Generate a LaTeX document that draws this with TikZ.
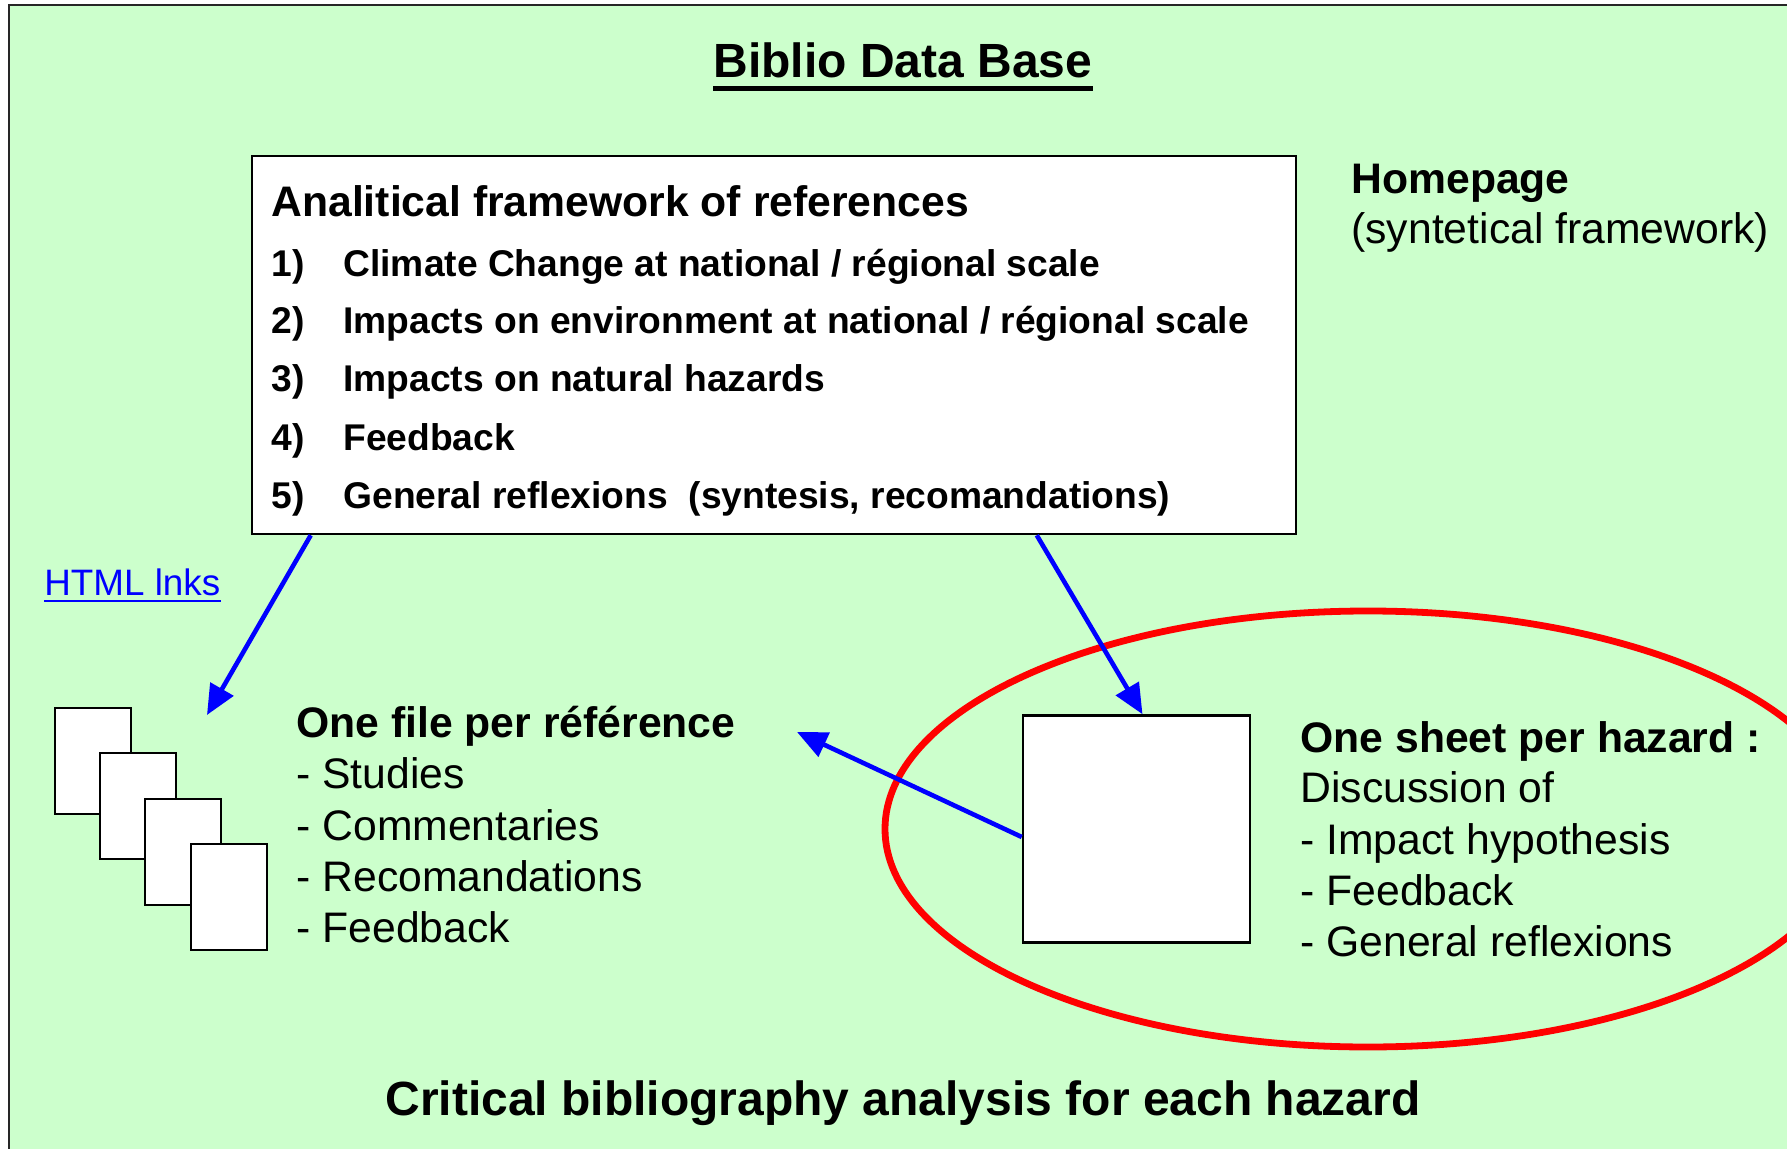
\documentclass[tikz,border=0pt]{standalone}
\usepackage{fontspec}
\setmainfont{Liberation Sans}
\usetikzlibrary{arrows.meta}

\definecolor{sheetgreen}{HTML}{CCFFCC}

\begin{document}
\begin{tikzpicture}[x=0.5pt, y=-0.5pt,
	line/.style={-{Triangle[length=15pt, width=13pt]}, draw=blue, line width=2.3pt},
	txt/.style={inner sep=0pt, anchor=base west, font=\fontsize{21.35}{25}\selectfont},
	bold/.style={txt, font=\fontsize{21.35}{25}\selectfont\bfseries},
	item/.style={txt, font=\fontsize{18.6}{22}\selectfont\bfseries},
	big/.style={inner sep=0pt, anchor=base, font=\fontsize{24}{28}\selectfont\bfseries},
	box/.style={draw=black, fill=white, line width=1.25pt, inner sep=0pt}]

	\useasboundingbox (0,0) rectangle (1787,1149);
	\clip (0,0) rectangle (1787,1149);
	\fill[white] (0,0) rectangle (1787,1149);
	\draw[draw=black!85, fill=sheetgreen, line width=1pt] (9,5) rectangle (1830,1190);

	% title
	\node[big] (title) at (903,78) {Biblio Data Base};
	\draw[line width=2.3pt] ([yshift=-5.3pt]title.base west) -- ([yshift=-5.3pt]title.base east);

	% framework of references
	\node[box, minimum width=522pt, minimum height=189pt] (refbox) at (774,345) {};
	\node[bold] (head) at (271,217) {Analitical framework of references};
	\node[item] (n1) at (271,277) {1)};
	\node[item] (n2) at (271,334) {2)};
	\node[item] (n3) at (271,392) {3)};
	\node[item] (n4) at (271,451) {4)};
	\node[item] (n5) at (271,509) {5)};
	\node[item] (i1) at (343,277) {Climate Change at national / régional scale};
	\node[item] (i2) at (343,334) {Impacts on environment at national / régional scale};
	\node[item] (i3) at (343,392) {Impacts on natural hazards};
	\node[item] (i4) at (343,451) {Feedback};
	\node[item] (i5) at (343,509) {General reflexions~ (syntesis, recomandations)};

	\node[bold] (home) at (1351,194) {Homepage};
	\node[txt] (homesub) at (1351,244) {(syntetical framework)};

	\node[txt, font=\fontsize{18.4}{22}\selectfont, text=blue] (links) at (44,595) {HTML lnks};
	\draw[blue, line width=1.3pt] ([yshift=-3pt]links.base west) -- ([yshift=-3pt]links.base east);

	% files
	\node[box, minimum width=38pt, minimum height=53pt] (file1) at (93,761) {};
	\node[box, minimum width=38pt, minimum height=53pt] (file2) at (138,806) {};
	\node[box, minimum width=38pt, minimum height=53pt] (file3) at (183,852) {};
	\node[box, minimum width=38pt, minimum height=53pt] (file4) at (229,897) {};

	\node[bold] (filehead) at (296,737) {One file per référence};
	\node[txt] (f1) at (296,788) {- Studies};
	\node[txt] (f2) at (296,840) {- Commentaries};
	\node[txt] (f3) at (296,891) {- Recomandations};
	\node[txt] (f4) at (296,942) {- Feedback};

	% hazard sheet
	\draw[red, line width=3.4pt] (1368,829) ellipse [x radius=241.5pt, y radius=109pt];
	\node[box, minimum size=113.5pt] (sheet) at (1136.5,829) {};

	\node[bold] (sheethead) at (1300,752) {One sheet per hazard :};
	\node[txt] (s1) at (1300,802) {Discussion of};
	\node[txt] (s2) at (1300,854) {- Impact hypothesis};
	\node[txt] (s3) at (1300,905) {- Feedback};
	\node[txt] (s4) at (1300,956) {- General reflexions};

	\coordinate (filetip) at (207,715);
	\coordinate (reftip) at (797,732);

	\draw[line] ([xshift=30pt]refbox.south west) -- (filetip);
	\draw[line] ([xshift=393pt]refbox.south west) -- ([xshift=3pt]sheet.north);
	\draw[line] ([yshift=-4pt]sheet.west) -- (reftip);

	\node[big] (bottom) at (903,1115) {Critical bibliography analysis for each hazard};

\end{tikzpicture}
\end{document}
